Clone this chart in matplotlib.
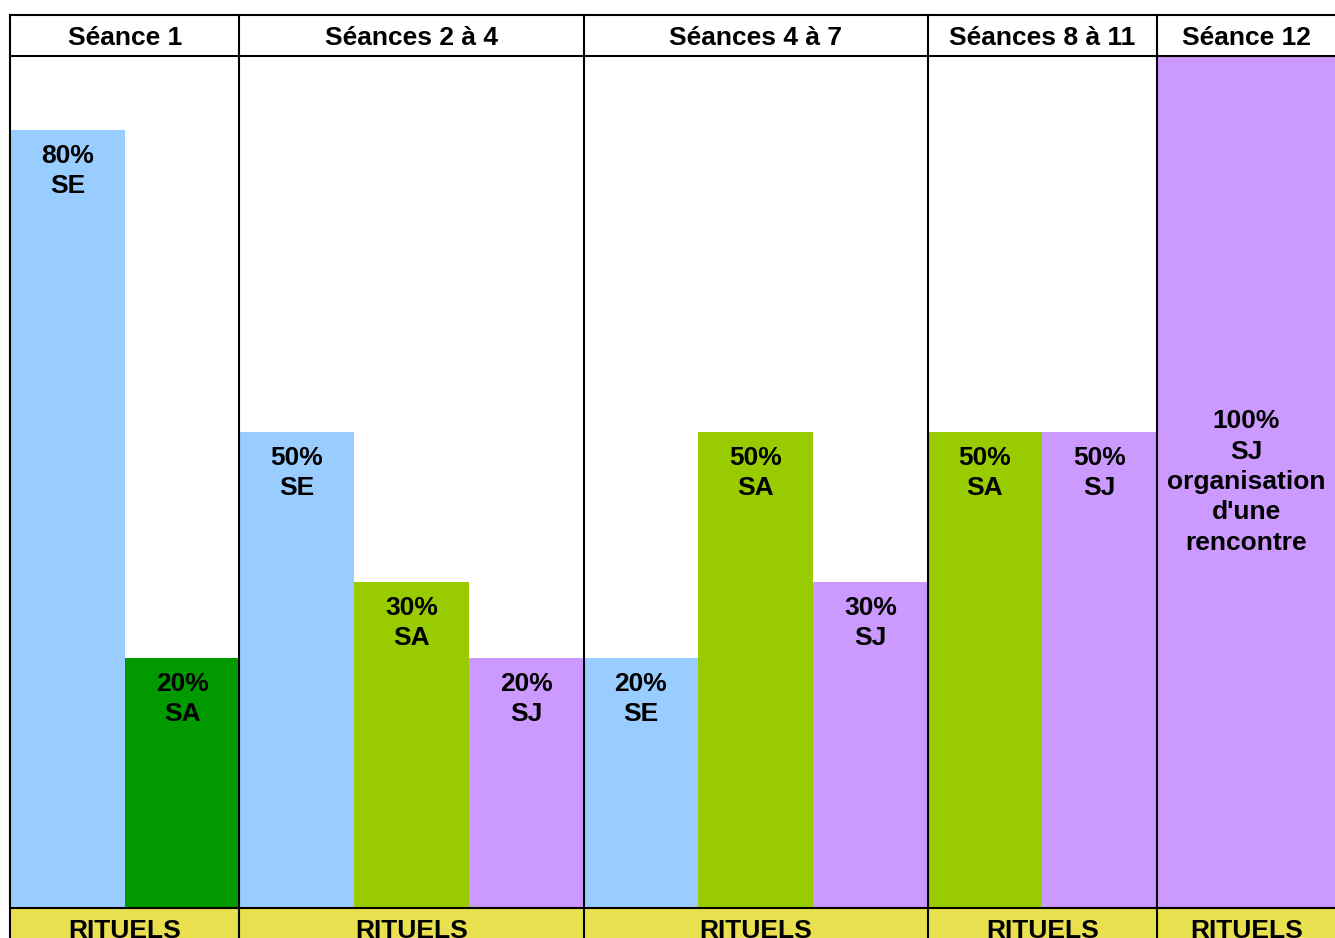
import numpy as np
import matplotlib.pyplot as plt
from matplotlib.transforms import blended_transform_factory

plt.rcParams['font.family'] = ['Liberation Sans', 'DejaVu Sans']

# columns of the table
groups = ['Séance 1', 'Séances 2 à 4', 'Séances 4 à 7', 'Séances 8 à 11', 'Séance 12']
group_size = [2, 3, 3, 2, 1]
footer = 'RITUELS'

# one entry per bar
bar_pct = [80, 20, 50, 30, 20, 20, 50, 30, 50, 50, 100]
bar_code = ['SE', 'SA', 'SE', 'SA', 'SJ', 'SE', 'SA', 'SJ', 'SA', 'SJ', 'SJ']
bar_note = ['', '', '', '', '', '', '', '', '', '', "organisation\nd'une\nrencontre"]

# style
bar_width = [1] * 10 + [1.56]
bar_color = ['#99CCFF', '#009900', '#99CCFF', '#99CC00', '#CC99FF', '#99CCFF',
             '#99CC00', '#CC99FF', '#99CC00', '#CC99FF', '#CC99FF']
yellow = '#E8E04E'

# the original table does not draw heights proportionally
pct_pts = [0, 20, 30, 50, 80, 100]
px_pts = [0, 250, 326, 476, 778, 852]

W, H = 1335, 938
fig = plt.figure(figsize=(W / 100, H / 100), dpi=100)


def box(x0, y0, x1, y1):
    return [x0 / W, 1 - y1 / H, (x1 - x0) / W, (y1 - y0) / H]


ax = fig.add_axes(box(10, 56, 1336, 908))
head = fig.add_axes(box(10, 15, 1336, 56))
foot = fig.add_axes(box(10, 908, 1336, 950))

lefts = np.concatenate([[0], np.cumsum(bar_width)[:-1]])
total = sum(bar_width)
bounds = [sum(bar_width[:sum(group_size[:i])]) for i in range(len(groups))]
centers = [(bounds[i] + (bounds[i + 1] if i + 1 < len(bounds) else total)) / 2
           for i in range(len(groups))]

ax.set_yscale('function', functions=(lambda v: np.interp(v, pct_pts, px_pts),
                                     lambda p: np.interp(p, px_pts, pct_pts)))
ax.bar(lefts, bar_pct, width=bar_width, align='edge', color=bar_color, zorder=1)
ax.set_ylim(0, 100)

fs = 19
mid = blended_transform_factory(ax.transData, ax.transAxes)
for x, w, p, c, n in zip(lefts, bar_width, bar_pct, bar_code, bar_note):
    label = f'{p}%\n{c}' + (f'\n{n}' if n else '')
    if p >= 100:
        ax.text(x + w / 2, 0.5, label, transform=mid, ha='center', va='center',
                fontsize=fs, fontweight='bold', linespacing=1.33, zorder=3)
    else:
        ax.annotate(label, (x + w / 2, p), xytext=(0, -10), textcoords='offset points',
                    ha='center', va='top', fontsize=fs, fontweight='bold',
                    linespacing=1.33, zorder=3)

for g, cx in zip(groups, centers):
    head.text(cx, 0.45, g, ha='center', va='center', fontsize=fs, fontweight='bold')
    foot.text(cx, 0.45, footer, ha='center', va='center', fontsize=fs, fontweight='bold')

foot.set_facecolor(yellow)
for a in (ax, head, foot):
    a.set_xlim(0, total)
    a.set_xticks([])
    a.set_yticks([])
    a.set_yticks([], minor=True)
    for s in a.spines.values():
        s.set_visible(False)
    for b in bounds:
        a.axvline(b, color='black', lw=1.5, zorder=5, clip_on=False)

head.set_ylim(0, 1)
foot.set_ylim(0, 1)
head.axhline(1, color='black', lw=1.5, clip_on=False)
head.axhline(0, color='black', lw=1.5, clip_on=False)
foot.axhline(1, color='black', lw=1.5, clip_on=False)

fig.savefig('out.png', dpi=100)
